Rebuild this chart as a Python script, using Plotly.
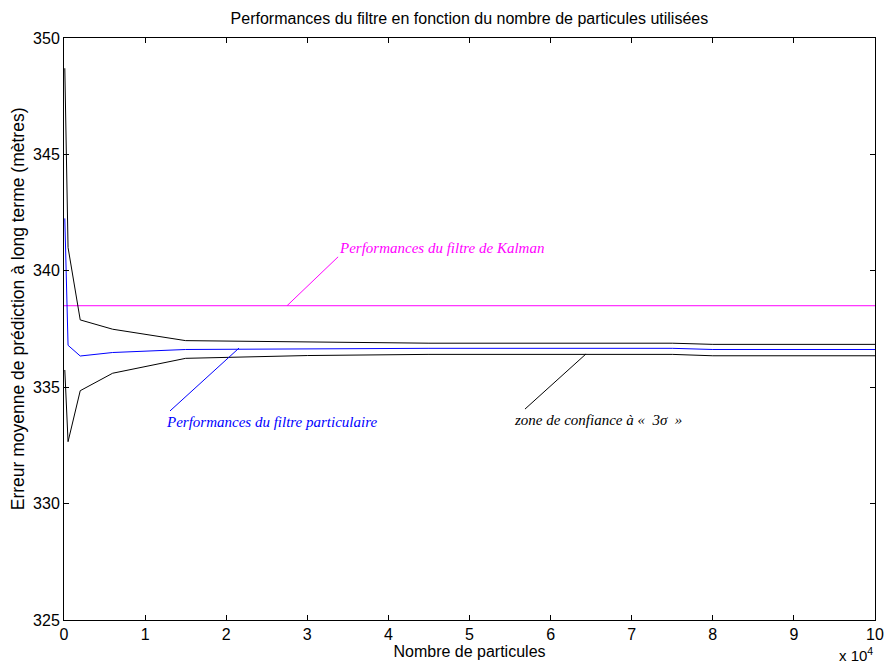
import plotly.graph_objects as go

# ---- data ----
n_particles = [100, 500, 2000, 6000, 15000, 30000, 45000, 75000, 80000, 100000]
mean_error = [342.25, 336.80, 336.34, 336.49, 336.62, 336.65, 336.67, 336.67, 336.62, 336.62]
upper_bound = [348.70, 341.00, 337.89, 337.49, 337.00, 336.93, 336.89, 336.89, 336.84, 336.84]
lower_bound = [335.74, 332.66, 334.85, 335.60, 336.24, 336.36, 336.41, 336.41, 336.35, 336.35]
kalman_x = [0, 100000]
kalman_y = [338.5, 338.5]

# leader lines of the annotations
kalman_lead_x = [27500, 33800]
kalman_lead_y = [338.5, 340.6]
part_lead_x = [13070, 21580]
part_lead_y = [333.98, 336.68]
zone_lead_x = [56840, 64370]
zone_lead_y = [334.06, 336.43]

# annotation text anchors
kalman_txt = (33700, 340.98)
part_txt = (12300, 333.49)
zone_txt = (55300, 333.59)

x_ticks = [0, 10000, 20000, 30000, 40000, 50000, 60000, 70000, 80000, 90000, 100000]
x_ticklabels = ["0", "1", "2", "3", "4", "5", "6", "7", "8", "9", "10"]
y_ticks = [325, 330, 335, 340, 345, 350]

BLACK = "#000000"
BLUE = "#0000FF"
MAG = "#FF00FF"
SANS = "Liberation Sans"

fig = go.Figure()
fig.add_trace(go.Scatter(x=kalman_x, y=kalman_y, mode="lines", line=dict(color=MAG, width=1)))
fig.add_trace(go.Scatter(x=n_particles, y=upper_bound, mode="lines", line=dict(color=BLACK, width=1)))
fig.add_trace(go.Scatter(x=n_particles, y=lower_bound, mode="lines", line=dict(color=BLACK, width=1)))
fig.add_trace(go.Scatter(x=n_particles, y=mean_error, mode="lines", line=dict(color=BLUE, width=1)))
fig.add_trace(go.Scatter(x=kalman_lead_x, y=kalman_lead_y, mode="lines", line=dict(color=MAG, width=1)))
fig.add_trace(go.Scatter(x=part_lead_x, y=part_lead_y, mode="lines", line=dict(color=BLUE, width=1)))
fig.add_trace(go.Scatter(x=zone_lead_x, y=zone_lead_y, mode="lines", line=dict(color=BLACK, width=1)))

ann_font = "Liberation Serif"
annotations = [
    dict(x=kalman_txt[0], y=kalman_txt[1], xref="x", yref="y", text="<i>Performances du filtre de Kalman</i>",
         showarrow=False, xanchor="left", yanchor="middle", font=dict(family=ann_font, size=15, color=MAG)),
    dict(x=part_txt[0], y=part_txt[1], xref="x", yref="y", text="<i>Performances du filtre particulaire</i>",
         showarrow=False, xanchor="left", yanchor="middle", font=dict(family=ann_font, size=15, color=BLUE)),
    dict(x=zone_txt[0], y=zone_txt[1], xref="x", yref="y", text="<i>zone de confiance à «  3σ  »</i>",
         showarrow=False, xanchor="left", yanchor="middle", font=dict(family=ann_font, size=15, color=BLACK)),
    dict(x=1, y=0, xref="paper", yref="paper", yshift=-46, text="x 10<sup>4</sup>", showarrow=False,
         xanchor="right", yanchor="bottom", font=dict(family=SANS, size=15, color="#000")),
    dict(x=0, y=0.534, xref="paper", yref="paper", xshift=-46,
         text="Erreur moyenne de prédiction à long terme (mètres)", textangle=-90, showarrow=False,
         xanchor="center", yanchor="middle", font=dict(family=SANS, size=17.5, color="#000")),
]

axis_common = dict(
    showgrid=False, zeroline=False, showline=True, linecolor="#000", linewidth=1,
    mirror="ticks", ticks="inside", ticklen=5, tickcolor="#000", tickwidth=1,
    tickfont=dict(family=SANS, size=16, color="#000"), automargin=False,
)

fig.update_layout(
    width=884, height=666,
    margin=dict(l=64, r=9, t=38, b=46),
    paper_bgcolor="white", plot_bgcolor="white",
    showlegend=False,
    title=dict(text="Performances du filtre en fonction du nombre de particules utilisées",
               x=0.531, xanchor="center", y=0.973, yanchor="middle",
               font=dict(family=SANS, size=16, color="#000")),
    xaxis=dict(range=[0, 100000], tickvals=x_ticks, ticktext=x_ticklabels,
               title=dict(text="Nombre de particules", standoff=0,
                          font=dict(family=SANS, size=16, color="#000")),
               **axis_common),
    yaxis=dict(range=[325, 350], tickvals=y_ticks, **axis_common),
    annotations=annotations,
)

fig.write_html("out.html")
